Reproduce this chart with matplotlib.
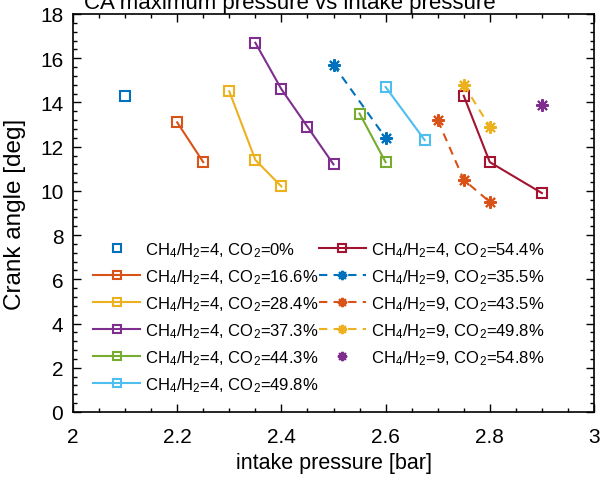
import numpy as np
import matplotlib.pyplot as plt
from matplotlib.ticker import MultipleLocator, FormatStrFormatter

plt.rcParams['font.family'] = ['Liberation Sans', 'DejaVu Sans']
plt.rcParams['mathtext.fontset'] = 'custom'
plt.rcParams['mathtext.rm'] = 'Liberation Sans'
plt.rcParams['mathtext.it'] = 'Liberation Sans:italic'

# CH4/H2 = 4 series (squares, solid)
x_r4_00 = [2.1]
y_r4_00 = [14.3]
x_r4_166 = [2.2, 2.25]
y_r4_166 = [13.1, 11.3]
x_r4_284 = [2.3, 2.35, 2.4]
y_r4_284 = [14.5, 11.4, 10.2]
x_r4_373 = [2.35, 2.4, 2.45, 2.5]
y_r4_373 = [16.7, 14.6, 12.9, 11.2]
x_r4_443 = [2.55, 2.6]
y_r4_443 = [13.5, 11.3]
x_r4_498 = [2.6, 2.675]
y_r4_498 = [14.7, 12.3]
x_r4_544 = [2.75, 2.8, 2.9]
y_r4_544 = [14.3, 11.3, 9.9]

# CH4/H2 = 9 series (asterisks, dashed)
x_r9_355 = [2.5, 2.6]
y_r9_355 = [15.7, 12.4]
x_r9_435 = [2.7, 2.75, 2.8]
y_r9_435 = [13.2, 10.5, 9.5]
x_r9_498 = [2.75, 2.8]
y_r9_498 = [14.8, 12.9]
x_r9_548 = [2.9]
y_r9_548 = [13.9]

c_blue = '#0072BD'
c_orange = '#D95319'
c_yellow = '#EDB120'
c_purple = '#7E2F8E'
c_green = '#77AC30'
c_cyan = '#4DBEEE'
c_red = '#A2142F'


def lab(r, co2):
    return r'CH$_4$/H$_2$=%s, CO$_2$=%s%%' % (r, co2)


fig = plt.figure(figsize=(6.03, 4.85), dpi=100)
ax = fig.add_axes([73 / 603, 1 - 413 / 485, (594 - 73) / 603, (413 - 15) / 485])

star = (8, 2, 0)
sq = dict(marker='s', markersize=7, markerfacecolor='none', markeredgewidth=1.5, linewidth=1.5)
st = dict(marker=star, markersize=9, markeredgewidth=1.5, linewidth=1.5, linestyle='--',
          dashes=(4, 3))

ax.plot(x_r4_00, y_r4_00, color=c_blue, linestyle='none', marker='s', markersize=7,
        markerfacecolor='none', markeredgewidth=1.5, label=lab(4, '0'))
ax.plot(x_r4_166, y_r4_166, color=c_orange, label=lab(4, '16.6'), **sq)
ax.plot(x_r4_284, y_r4_284, color=c_yellow, label=lab(4, '28.4'), **sq)
ax.plot(x_r4_373, y_r4_373, color=c_purple, label=lab(4, '37.3'), **sq)
ax.plot(x_r4_443, y_r4_443, color=c_green, label=lab(4, '44.3'), **sq)
ax.plot(x_r4_498, y_r4_498, color=c_cyan, label=lab(4, '49.8'), **sq)
ax.plot(x_r4_544, y_r4_544, color=c_red, label=lab(4, '54.4'), **sq)
ax.plot(x_r9_355, y_r9_355, color=c_blue, label=lab(9, '35.5'), **st)
ax.plot(x_r9_435, y_r9_435, color=c_orange, label=lab(9, '43.5'), **st)
ax.plot(x_r9_498, y_r9_498, color=c_yellow, label=lab(9, '49.8'), **st)
ax.plot(x_r9_548, y_r9_548, color=c_purple, linestyle='none', marker=star, markersize=9,
        markeredgewidth=1.5, label=lab(9, '54.8'))

ax.set_xlim(2, 3)
ax.set_ylim(0, 18)
ax.xaxis.set_major_locator(MultipleLocator(0.2))
ax.xaxis.set_minor_locator(MultipleLocator(0.05))
ax.yaxis.set_major_locator(MultipleLocator(2))
ax.yaxis.set_minor_locator(MultipleLocator(0.4))
ax.xaxis.set_major_formatter(FormatStrFormatter('%g'))
ax.yaxis.set_major_formatter(FormatStrFormatter('%g'))
ax.tick_params(which='both', direction='in', top=True, right=True, labelsize=15, width=1)
ax.tick_params(axis='x', which='major', pad=11)
ax.tick_params(axis='y', which='major', pad=7)
ax.tick_params(which='major', length=6)
ax.tick_params(which='minor', length=3)
for s in ax.spines.values():
    s.set_linewidth(1.2)

ax.set_xlabel('intake pressure [bar]', fontsize=15.5, labelpad=4)
ax.set_ylabel('Crank angle [deg]', fontsize=17.5, labelpad=10)

# title sits mostly above the top edge of the figure, only its lower part shows
fig.text(0.48, 1 - 9 / 485, 'CA maximum pressure vs intake pressure', fontsize=16,
         ha='center', va='baseline')

ax.legend(ncol=2, frameon=False, fontsize=12, loc='upper left',
          bbox_to_anchor=(0.01, 0.47), handlelength=2.8, labelspacing=0.5,
          columnspacing=0.05, handletextpad=0.3, markerscale=0.75)

fig.savefig('out.png', dpi=100)
